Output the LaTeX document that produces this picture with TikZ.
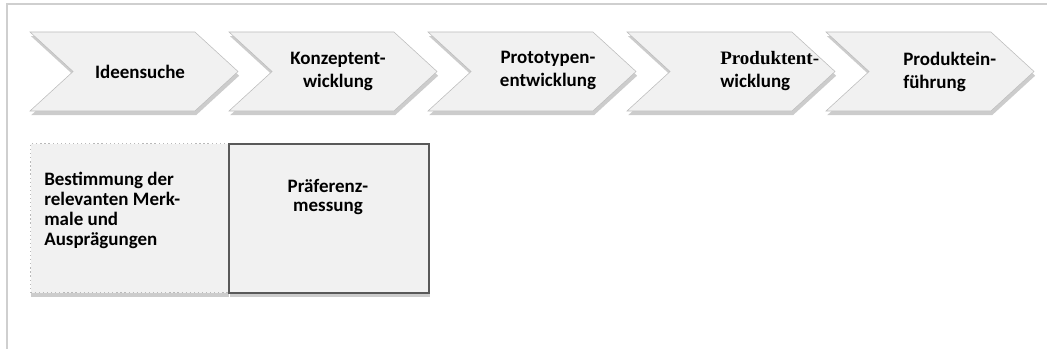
\documentclass[tikz,border=0pt]{standalone}
\usepackage{fontspec}
\setmainfont{Carlito}
\newfontfamily\serifstep{Liberation Serif}
\usetikzlibrary{shapes.symbols,shadows}

\definecolor{boxfill}{HTML}{F1F1F1}
\definecolor{chevline}{HTML}{BDBDBD}
\definecolor{framegray}{HTML}{CFCFCF}
\definecolor{darkline}{HTML}{595959}

\begin{document}
\begin{tikzpicture}[x=0.025cm,y=-0.025cm,font=\bfseries\fontsize{13.5}{16.4}\selectfont,
  chevron/.style={signal,signal from=west,signal to=east,signal pointer angle=85,draw=chevline,fill=boxfill,minimum width=5.2cm,minimum height=1.975cm,inner sep=0pt,drop shadow={shadow xshift=0.8pt,shadow yshift=-3pt,opacity=0.4,fill=gray}},
  steptext/.style={align=center,inner sep=0pt},
  phasebox/.style={fill=boxfill,anchor=north west,minimum height=3.725cm,inner sep=0pt,drop shadow={shadow xshift=0.5pt,shadow yshift=-3pt,opacity=0.4,fill=gray}}]
\useasboundingbox (0,0) rectangle (1047,349);
\draw[framegray,line width=1.2pt] (7,349) -- (7,4) -- (1047,4);

% process steps
\foreach \n/\cx in {1/134,2/333,3/532,4/731,5/930}
  \node[chevron] (ch\n) at (\cx,71.5) {};
\node[steptext] (t1) at (140,72) {Ideensuche};
\node[steptext] (t2) at (338,71) {Konzeptent-\\wicklung};
\node[steptext] (t3) at (548,70) {Prototypen-\\entwicklung};
\node[steptext,align=left,anchor=west] (t4) at (720,71) {{\serifstep\bfseries Produktent-}\\wicklung};
\node[steptext,align=left,anchor=west] (t5) at (903,72) {Produktein-\\führung};

% conjoint steps
\node[phasebox,draw=gray!55,dotted,line width=0.9pt,minimum width=4.95cm] (merkmale) at (30,143) {};
\node[phasebox,draw=darkline,line width=1.4pt,minimum width=5cm] (praef) at (228,143) {};
\node[steptext,align=left,anchor=north west,font=\bfseries\fontsize{13.5}{14.2}\selectfont] (mtext) at (44,172) {Bestimmung der\\relevanten Merk-\\male und\\Ausprägungen};
\node[steptext,font=\bfseries\fontsize{13.5}{14.2}\selectfont] (ptext) at (328,197) {Präferenz-\\messung};
\end{tikzpicture}
\end{document}
